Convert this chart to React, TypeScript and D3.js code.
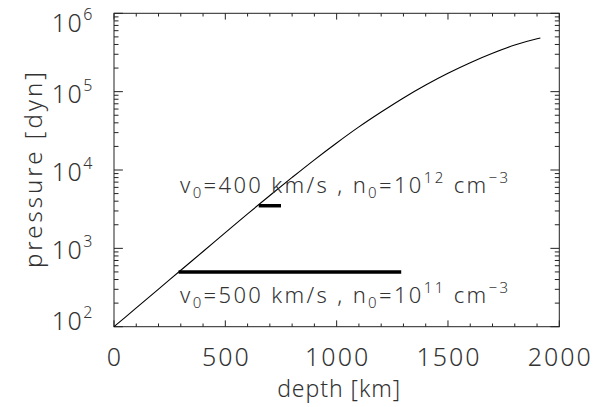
import React from "react";
import * as d3 from "d3";

// pressure profile (depth in km, pressure in dyn)
const depthKm = [0, 100, 200, 300, 400, 500, 600, 700, 800, 900, 1000, 1100, 1200, 1300, 1400, 1500, 1600, 1700, 1800, 1900, 1915];
const logPressure = [2.0, 2.24, 2.48, 2.72, 2.96, 3.2, 3.44, 3.675, 3.905, 4.13, 4.345, 4.55, 4.74, 4.92, 5.085, 5.235, 5.37, 5.49, 5.595, 5.675, 5.685];
const pressureDyn = logPressure.map((v) => Math.pow(10, v));

// horizontal bars for the two cases
const barStartKm = [650, 290];
const barEndKm = [750, 1290];
const barPressure = [3500, 500];

const xTicks = [0, 500, 1000, 1500, 2000];
const xTickLabels = ["0", "500", "1000", "1500", "2000"];
const yDecades = [2, 3, 4, 5, 6];

const width = 601;
const height = 407;
const margin = { top: 13.3, right: 41.7, bottom: 80.3, left: 114 };

const font = "'Noto Sans', 'DejaVu Sans', sans-serif";
const ink = "#222";
const textInk = "#333";

export default function App() {
  const x = d3.scaleLinear().domain([0, 2000]).range([margin.left, width - margin.right]);
  const y = d3.scaleLog().domain([100, 1e6]).range([height - margin.bottom, margin.top]);
  const x0 = x.range()[0], x1 = x.range()[1];
  const yb = y.range()[0], yt = y.range()[1];

  const line = d3
    .line<number>()
    .x((_, i) => x(depthKm[i]))
    .y((d) => y(d))
    .curve(d3.curveMonotoneX);

  const xMinor = d3.range(0, 2001, 100).filter((v) => v % 500 !== 0);
  const yMinor: number[] = [];
  for (let d = 2; d < 6; d++) for (let k = 2; k < 10; k++) yMinor.push(k * Math.pow(10, d));

  const xLenMaj = 6.3, xLenMin = 3.2, yLenMaj = 8.9, yLenMin = 4.5;

  return (
    <svg width={width} height={height} style={{ position: "absolute", left: 0, top: 0 }} fontFamily={font} fontWeight={300} fill={textInk}>
      <rect width={width} height={height} fill="#fff" />
      {/* frame */}
      <rect x={x0} y={yt} width={x1 - x0} height={yb - yt} fill="none" stroke={ink} strokeWidth={1} />

      {/* x ticks, bottom and top */}
      {xTicks.map((v) => (
        <g key={"xm" + v} stroke={ink}>
          <line x1={x(v)} x2={x(v)} y1={yb} y2={yb - xLenMaj} />
          <line x1={x(v)} x2={x(v)} y1={yt} y2={yt + xLenMaj} />
        </g>
      ))}
      {xMinor.map((v) => (
        <g key={"xn" + v} stroke={ink}>
          <line x1={x(v)} x2={x(v)} y1={yb} y2={yb - xLenMin} />
          <line x1={x(v)} x2={x(v)} y1={yt} y2={yt + xLenMin} />
        </g>
      ))}

      {/* y ticks, left and right */}
      {yDecades.map((d) => (
        <g key={"ym" + d} stroke={ink}>
          <line x1={x0} x2={x0 + yLenMaj} y1={y(Math.pow(10, d))} y2={y(Math.pow(10, d))} />
          <line x1={x1} x2={x1 - yLenMaj} y1={y(Math.pow(10, d))} y2={y(Math.pow(10, d))} />
        </g>
      ))}
      {yMinor.map((v) => (
        <g key={"yn" + v} stroke={ink}>
          <line x1={x0} x2={x0 + yLenMin} y1={y(v)} y2={y(v)} />
          <line x1={x1} x2={x1 - yLenMin} y1={y(v)} y2={y(v)} />
        </g>
      ))}

      {/* x tick labels */}
      {xTicks.map((v, i) => (
        <text key={"xl" + v} x={x(v) + 1} y={yb + 39} fontSize={25} textAnchor="middle" letterSpacing={2}>
          {xTickLabels[i]}
        </text>
      ))}
      <text x={(x0 + x1) / 2 + 2} y={yb + 70} fontSize={23} textAnchor="middle" textLength={123} lengthAdjust="spacing">
        depth [km]
      </text>

      {/* y tick labels */}
      {yDecades.map((d) => {
        const cy = Math.max(yt + 10, Math.min(yb - 6, y(Math.pow(10, d)) + 2));
        return (
          <text key={"yl" + d} x={94} y={cy + 9} fontSize={25} textAnchor="end" letterSpacing={1.5}>
            10
            <tspan fontSize={16} dy={-12} dx={0}>{d}</tspan>
          </text>
        );
      })}
      <text transform={`translate(42,${(yt + yb) / 2}) rotate(-90)`} fontSize={24} textAnchor="middle" textLength={196} lengthAdjust="spacing">
        pressure [dyn]
      </text>

      {/* curve */}
      <path d={line(pressureDyn) ?? ""} fill="none" stroke="#000" strokeWidth={1.1} />

      {/* bars */}
      {barStartKm.map((s, i) => (
        <line key={"bar" + i} x1={x(s)} x2={x(barEndKm[i])} y1={y(barPressure[i])} y2={y(barPressure[i])} stroke="#000" strokeWidth={3.5} />
      ))}

      {/* annotations */}
      <text x={180} y={193} fontSize={22} textLength={328} lengthAdjust="spacing" xmlSpace="preserve">
        v<tspan fontSize={15} dy={5}>0</tspan>
        <tspan dy={-5}>=400 km/s , n</tspan>
        <tspan fontSize={15} dy={5}>0</tspan>
        <tspan dy={-5}>=10</tspan>
        <tspan fontSize={15} dy={-10}>12</tspan>
        <tspan dy={10}> cm</tspan>
        <tspan fontSize={15} dy={-10}>−3</tspan>
      </text>
      <text x={180} y={303} fontSize={22} textLength={328} lengthAdjust="spacing" xmlSpace="preserve">
        v<tspan fontSize={15} dy={5}>0</tspan>
        <tspan dy={-5}>=500 km/s , n</tspan>
        <tspan fontSize={15} dy={5}>0</tspan>
        <tspan dy={-5}>=10</tspan>
        <tspan fontSize={15} dy={-10}>11</tspan>
        <tspan dy={10}> cm</tspan>
        <tspan fontSize={15} dy={-10}>−3</tspan>
      </text>
    </svg>
  );
}
